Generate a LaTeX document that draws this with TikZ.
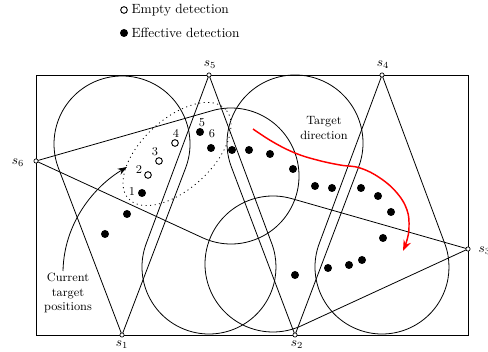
\documentclass[tikz,border=0pt]{standalone}
\usetikzlibrary{calc,arrows.meta}
\tikzset{
  x=0.75pt, y=0.75pt,
  cone/.style={line width=0.6pt, line join=round},
  frame/.style={line width=0.7pt},
  fdot/.style={circle, fill=black, inner sep=0pt, minimum size=6pt},
  edot/.style={circle, draw=black, line width=0.7pt, fill=white, inner sep=0pt, minimum size=5pt},
  sensor/.style={circle, draw=black, fill=white, line width=0.5pt, inner sep=0pt, minimum size=3.2pt},
  lbl/.style={font=\small, inner sep=1pt},
  txt/.style={font=\small, align=center, inner sep=1pt},
}
\newcommand{\sensorcone}[3]{%
  \draw[cone] let \p1=($(#2)-(#1)$), \n1={veclen(\x1,\y1)}, \n2={atan2(\y1,\x1)},
    \n3={acos(#3*0.75/\n1)}, \n4={\n2+180+\n3}, \n5={\n2+540-\n3}, \n6={#3*0.75}
    in (#1) -- ($(#2)+(\n4:\n6pt)$) arc[start angle=\n4, end angle=\n5, radius=\n6pt] -- cycle;
}
\begin{document}
\begin{tikzpicture}
\useasboundingbox (0,0) rectangle (488,352);
% sensors
\coordinate (s1) at (122,17);
\coordinate (s2) at (295,17);
\coordinate (s3) at (468,103);
\coordinate (s4) at (382,277);
\coordinate (s5) at (209,277);
\coordinate (s6) at (36,191);
% cone circle centres
\coordinate (c1) at (122,208);
\coordinate (c2) at (295,209);
\coordinate (c3) at (273,88);
\coordinate (c4) at (382,85);
\coordinate (c5) at (209,85);
\coordinate (c6) at (231,176);
\sensorcone{s1}{c1}{68}
\sensorcone{s2}{c2}{68}
\sensorcone{s3}{c3}{68}
\sensorcone{s4}{c4}{67}
\sensorcone{s5}{c5}{67}
\sensorcone{s6}{c6}{68}
% frame
\draw[frame] (36,17) rectangle (468,277);
% dotted ellipse
\draw[line width=0.6pt, dash pattern=on 0.8pt off 2.6pt, rotate around={42.6:(177,198)}]
  (177,198) ellipse [x radius=49.5pt, y radius=26.25pt];
% sensor markers and labels
\foreach \i in {1,...,6} \node[sensor] (m\i) at (s\i) {};
\node (l1) at (122,7) {$s_1$};
\node (l2) at (297,7) {$s_2$};
\node[anchor=west, inner sep=1pt] (l3) at (477,101) {$s_3$};
\node (l4) at (383,287) {$s_4$};
\node (l5) at (210,287) {$s_5$};
\node (l6) at (18,189) {$s_6$};
% empty detections
\node[edot] (e2) at (148,177) {};
\node[edot] (e3) at (159,191) {};
\node[edot] (e4) at (175,209) {};
% effective detections
\foreach \px/\py [count=\i] in {142/159, 127/138, 105/118, 200/220, 211/204, 232/202, 249/202, 270/198,
  293/183, 315/166, 332/164, 361/164, 378/156, 391/140, 383/114, 362/92, 349/87, 328/84, 295/77}
  \node[fdot] (f\i) at (\px,\py) {};
% number labels
\node[lbl] (n1) at (132,160) {1};
\node[lbl] (n2) at (139,182) {2};
\node[lbl] (n3) at (155,200) {3};
\node[lbl] (n4) at (176,219) {4};
\node[lbl] (n5) at (202,229) {5};
\node[lbl] (n6) at (212,218) {6};
% texts
\node[txt] (ctp) at (68,59) {Current\\target\\positions};
\node[txt] (tdir) at (324,224) {Target\\direction};
% current target arrow
\coordinate (ta) at (63,81);
\coordinate (tb) at (127,185);
\draw[line width=0.6pt, -{Stealth[length=7pt,width=5pt]}] (ta) .. controls (64,130) and (95,166) .. (tb);
% red direction arrow
\draw[red, line width=1.1pt, -{Stealth[length=8pt,width=6pt]}] plot[smooth, tension=0.7] coordinates
  {(253,223) (273,210) (295,199) (317,192) (340,187) (360,184) (380,174) (397,159) (407,142) (409,125) (407,112) (403,101)};
% legend
\node[edot] (le) at (124,342) {};
\node[anchor=west, inner sep=1pt] (lte) at (130,342) {Empty detection};
\node[fdot] (lf) at (124,319) {};
\node[anchor=west, inner sep=1pt] (ltf) at (130,319) {Effective detection};
\end{tikzpicture}
\end{document}
